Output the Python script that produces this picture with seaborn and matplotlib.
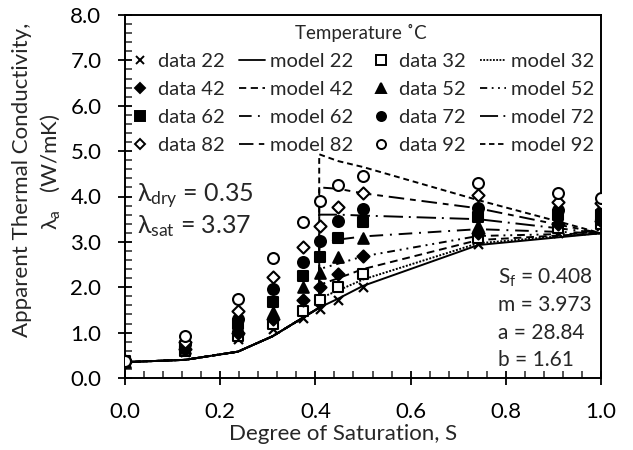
import numpy as np
import pandas as pd
import matplotlib
matplotlib.use("Agg")
import matplotlib.pyplot as plt
from matplotlib.lines import Line2D
from matplotlib.ticker import MultipleLocator, FormatStrFormatter
import seaborn as sns

# ---------------- data ----------------
temps = [22, 32, 42, 52, 62, 72, 82, 92]
S_data = [0.0, 0.126, 0.237, 0.31, 0.374, 0.41, 0.448, 0.50, 0.742, 0.91, 1.0]
data_22 = [0.35, 0.57, 0.85, 1.08, 1.32, 1.52, 1.72, 2.00, 2.95, 3.20, 3.35]
data_32 = [0.35, 0.60, 0.92, 1.20, 1.48, 1.72, 2.00, 2.29, 3.08, 3.30, 3.40]
data_42 = [0.36, 0.63, 1.00, 1.30, 1.72, 2.00, 2.29, 2.69, 3.20, 3.40, 3.45]
data_52 = [0.36, 0.66, 1.08, 1.45, 2.00, 2.31, 2.67, 3.08, 3.35, 3.50, 3.50]
data_62 = [0.37, 0.70, 1.18, 1.68, 2.25, 2.67, 3.08, 3.44, 3.55, 3.60, 3.60]
data_72 = [0.37, 0.74, 1.30, 1.96, 2.55, 3.02, 3.46, 3.72, 3.75, 3.70, 3.65]
data_82 = [0.38, 0.80, 1.47, 2.22, 2.89, 3.35, 3.77, 4.07, 4.03, 3.88, 3.85]
data_92 = [0.38, 0.93, 1.74, 2.64, 3.44, 3.90, 4.25, 4.45, 4.30, 4.07, 3.96]

S_model = [0.0, 0.126, 0.237, 0.31, 0.374, 0.408, 0.408, 0.448, 0.50, 0.742, 0.91, 1.0]
model_base = [0.35, 0.40, 0.58, 0.92, 1.33, 1.55]
model_22 = [1.55, 1.75, 2.03, 2.93, 3.10, 3.19]
model_32 = [1.75, 1.93, 2.17, 2.97, 3.12, 3.19]
model_42 = [2.05, 2.20, 2.40, 3.04, 3.14, 3.19]
model_52 = [2.40, 2.52, 2.68, 3.13, 3.17, 3.19]
model_62 = [2.95, 3.05, 3.12, 3.28, 3.22, 3.19]
model_72 = [3.60, 3.60, 3.58, 3.50, 3.30, 3.19]
model_82 = [4.20, 4.17, 4.07, 3.74, 3.38, 3.19]
model_92 = [4.93, 4.78, 4.65, 3.92, 3.45, 3.19]

data_vals = [data_22, data_32, data_42, data_52, data_62, data_72, data_82, data_92]
model_vals = [model_22, model_32, model_42, model_52, model_62, model_72, model_82, model_92]

x_ticks = [0.0, 0.2, 0.4, 0.6, 0.8, 1.0]
y_ticks = [0, 1, 2, 3, 4, 5, 6, 7, 8]

# ---------------- style ----------------
sns.set_style("ticks")
plt.rcParams["font.family"] = ["Lato", "DejaVu Sans"]
plt.rcParams["mathtext.fontset"] = "custom"
plt.rcParams["mathtext.rm"] = "Lato"
plt.rcParams["mathtext.it"] = "Lato"

W, H = 633, 450
fig = plt.figure(figsize=(W / 100, H / 100), dpi=100)
ax = fig.add_axes([125 / W, (H - 378) / H, 476 / W, 363 / H])

# marker styles: (marker, size, facecolor)
mk = {
    22: ("x", 42, "k"),
    32: ("s", 52, "white"),
    42: ("D", 38, "k"),
    52: ("^", 58, "k"),
    62: ("s", 52, "k"),
    72: ("o", 62, "k"),
    82: ("D", 38, "white"),
    92: ("o", 62, "white"),
}
dash = {
    22: "",
    32: (1, 0.8),
    42: (4, 2.5),
    52: (4, 2.5, 1, 2.5, 1, 2.5),
    62: (7, 3.5, 1, 3.5),
    72: (10, 3, 1, 3),
    82: (8, 3, 3, 3),
    92: (3, 2),
}

# model lines
rows = []
for t, mv in zip(temps, model_vals):
    for s, v in zip(S_model, model_base + mv):
        rows.append({"S": s, "lam": v, "T": str(t)})
df_model = pd.DataFrame(rows)
rows_o = list(df_model["T"].unique())
sns.lineplot(data=df_model, x="S", y="lam", style="T", style_order=rows_o,
             dashes={str(t): dash[t] for t in temps}, color="k", linewidth=1.4,
             estimator=None, sort=False, legend=False, ax=ax)

# data points
for t, dv in zip(temps, data_vals):
    m, s, fc = mk[t]
    d = pd.DataFrame({"S": S_data, "lam": dv})
    if m == "x":
        sns.scatterplot(data=d, x="S", y="lam", marker="x", s=s, color="k",
                        linewidth=1.6, ax=ax, zorder=5, legend=False)
    else:
        sns.scatterplot(data=d, x="S", y="lam", marker=m, s=s, facecolor=fc,
                        edgecolor="k", linewidth=1.5, ax=ax, zorder=5, legend=False)

# axes
ax.set_xlim(0, 1.0)
ax.set_ylim(0, 8.0)
ax.set_xticks(x_ticks)
ax.set_yticks(y_ticks)
ax.xaxis.set_minor_locator(MultipleLocator(0.04))
ax.yaxis.set_minor_locator(MultipleLocator(0.2))
ax.xaxis.set_major_formatter(FormatStrFormatter("%.1f"))
ax.yaxis.set_major_formatter(FormatStrFormatter("%.1f"))
ax.tick_params(which="major", direction="inout", length=10, width=1.3,
               labelsize=16, pad=12, colors="k")
ax.tick_params(which="minor", direction="in", length=5, width=1.1)
for sp in ax.spines.values():
    sp.set_visible(True)
    sp.set_linewidth(1.4)
    sp.set_color("k")
ax.set_xlabel("")
ax.set_ylabel("")

fig.text(343 / W, 1 - 434 / H, "Degree of Saturation, S", ha="center", va="center",
         fontsize=16)
fig.text(22 / W, 1 - 180 / H, "Apparent Thermal Conductivity,", rotation=90,
         ha="center", va="center", fontsize=16)
fig.text(50 / W, 1 - 172 / H, r"$\lambda_\mathrm{a}$   (W/mK)", rotation=90,
         ha="center", va="center", fontsize=16)

# annotations
ax.text(0.025, 4.0, r"$\lambda_\mathrm{dry}$ = 0.35", fontsize=18, va="center",
        ha="left")
ax.text(0.025, 3.35, r"$\lambda_\mathrm{sat}$ = 3.37", fontsize=18, va="center",
        ha="left")
params = [r"S$_\mathrm{f}$ = 0.408", "m = 3.973", "a = 28.84", "b = 1.61"]
for i, p in enumerate(params):
    ax.text(0.783, 2.2 - i * 0.6, p, fontsize=15, va="center", ha="left")

# legend (row-major appearance)
def data_handle(t):
    m, s, fc = mk[t]
    if m == "x":
        return Line2D([], [], marker="x", color="k", linestyle="none",
                      markersize=6, markeredgewidth=1.4)
    return Line2D([], [], marker=m, markerfacecolor=fc, markeredgecolor="k",
                  linestyle="none", markersize=6.5 if m != "D" else 5.5,
                  markeredgewidth=1.4)

def model_handle(t):
    l = Line2D([], [], color="k", linewidth=1.3)
    if dash[t] == "":
        l.set_linestyle("-")
    else:
        l.set_linestyle((0, dash[t]))
    return l

order_cols = [[22, 42, 62, 82], [22, 42, 62, 82], [32, 52, 72, 92], [32, 52, 72, 92]]
handles, labels = [], []
for ci, col in enumerate(order_cols):
    for t in col:
        if ci % 2 == 0:
            handles.append(data_handle(t)); labels.append(f"data {t}")
        else:
            handles.append(model_handle(t)); labels.append(f"model {t}")
leg = ax.legend(handles, labels, ncol=4, loc="upper center",
                bbox_to_anchor=(0.495, 1.01), frameon=False, fontsize=14.5,
                title="Temperature \u02daC", title_fontsize=13.5,
                handlelength=1.3, handletextpad=0.25, columnspacing=0.7,
                labelspacing=0.55, borderaxespad=0.2)

fig.savefig("out.png", dpi=100)
